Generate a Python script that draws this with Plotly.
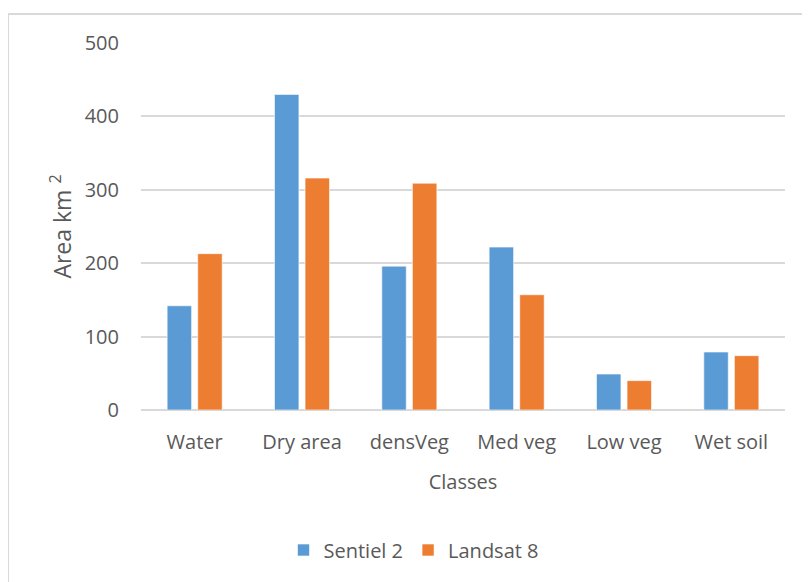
import plotly.graph_objects as go

categories = ["Water", "Dry area", "densVeg", "Med veg", "Low veg", "Wet soil"]
sentinel2 = [142, 430, 196, 222, 49, 79]
landsat8 = [213, 316, 309, 157, 40, 74]
y_ticks = [0, 100, 200, 300, 400, 500]

BLUE = "#5B9BD5"
ORANGE = "#ED7D31"
GREY = "#595959"
FONT = "Open Sans"

# page body has an 8px margin, so figure coords = screen coords - 8
OFF = 8
W, H = 810, 582
L, R, T, B = 141 - OFF, 810 - (785 - OFF), 43 - OFF, 582 - (410 - OFF)
pw, ph = W - L - R, H - T - B
bottom = T + ph

fig = go.Figure()
fig.add_trace(go.Bar(x=categories, y=sentinel2, name="Sentiel 2",
                     marker=dict(color=BLUE, line=dict(color="rgba(255,255,255,0.6)", width=1))))
fig.add_trace(go.Bar(x=categories, y=landsat8, name="Landsat 8",
                     marker=dict(color=ORANGE, line=dict(color="rgba(255,255,255,0.6)", width=1))))

fig.update_layout(
    width=W, height=H,
    margin=dict(l=L, r=R, t=T, b=B, autoexpand=False),
    paper_bgcolor="white", plot_bgcolor="white",
    barmode="group", bargap=0.43, bargroupgap=0.2,
    font=dict(family=FONT, color=GREY),
    showlegend=True,
    legend=dict(orientation="h", x=(414 - OFF - L) / pw, xanchor="center",
                y=-(550 - OFF - bottom) / ph, yanchor="middle",
                font=dict(size=20, color=GREY, family=FONT),
                itemwidth=30, traceorder="normal"),
    xaxis=dict(
        title=dict(text="Classes", font=dict(size=20, color=GREY, family=FONT), standoff=20),
        tickfont=dict(size=20, color=GREY, family=FONT),
        showline=False, showgrid=False, zeroline=False,
        ticks="outside", ticklen=14, tickcolor="rgba(0,0,0,0)",
    ),
    yaxis=dict(
        title=dict(text="Area km <sup>2</sup>", font=dict(size=23, color=GREY, family=FONT), standoff=6),
        range=[0, 500], tickvals=y_ticks,
        tickfont=dict(size=20, color=GREY, family=FONT),
        showgrid=True, gridcolor="#D9D9D9", gridwidth=2,
        zeroline=True, zerolinecolor="#D9D9D9", zerolinewidth=2,
        showline=False,
        ticks="outside", ticklen=17, tickcolor="rgba(0,0,0,0)",
    ),
    shapes=[dict(type="rect", xref="paper", yref="paper",
                 x0=(8 - OFF - L) / pw, x1=(840 - L) / pw,
                 y0=-(620 - bottom) / ph, y1=(bottom - (14 - OFF)) / ph,
                 line=dict(color="#D9D9D9", width=2), layer="below")],
)

fig.write_html("out.html")
